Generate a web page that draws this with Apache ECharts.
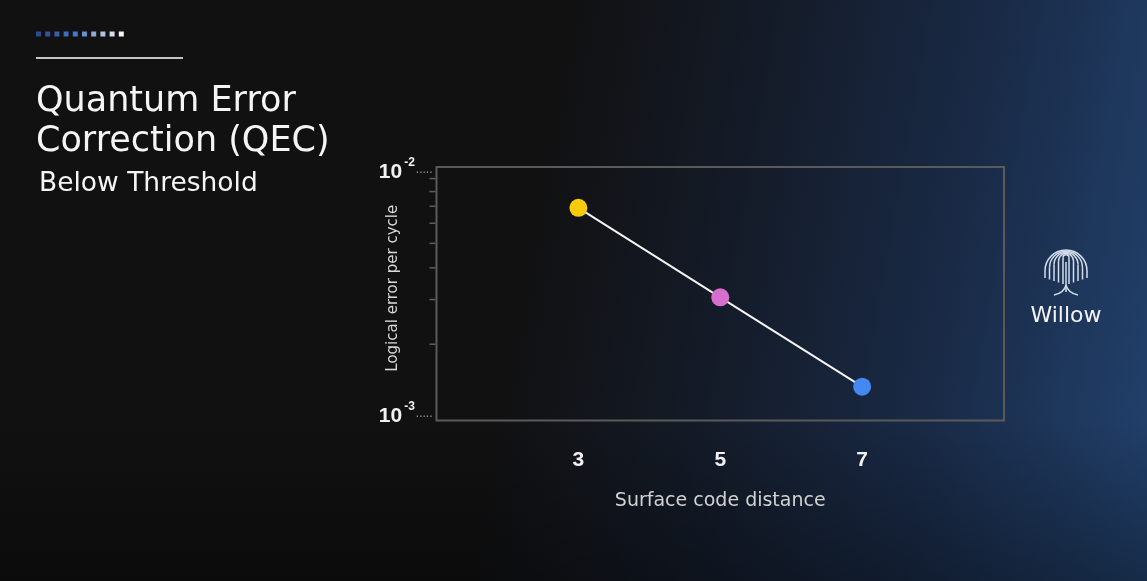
<!DOCTYPE html>
<html><head><meta charset="utf-8">
<script src="https://cdn.jsdelivr.net/npm/echarts@6/dist/echarts.min.js"></script>
<style>
html,body{margin:0;padding:0;width:1147px;height:581px;overflow:hidden;}
body{background:
 linear-gradient(180deg, rgba(0,0,0,0) 72%, rgba(0,0,0,0.35) 100%),
 linear-gradient(100deg, #111112 0%, #111112 46%, #141b28 62%, #192a46 80%, #22426e 100%);}
#c{width:1147px;height:581px;}
</style></head><body><div id="c"></div>
<script>
// ---- data ----
const distances = [3, 5, 7];
const logicalError = [0.0069, 0.00306, 0.00136];
const markerColors = ['#FACB0C', '#D46FCF', '#4688F1'];
const xTickLabels = [3, 5, 7];
const xMin = 1, xMax = 9;
const yMin = 0.001, yMax = 0.01;
const yMinorTickValues = [0.002, 0.003, 0.004, 0.005, 0.006, 0.007, 0.008, 0.009];
const xAxisTitle = 'Surface code distance';
const yAxisTitle = 'Logical error per cycle';
const titleLines = ['Quantum Error', 'Correction (QEC)'];
const subtitle = 'Below Threshold';
const badgeText = 'Willow';
const decoColors = ['#2b4c8e','#30559c','#3660ab','#3d6cbd','#4678c9','#6a8fd0','#8ea9d8','#b3c4e2','#d6deed','#f5f5f5'];

// ---- decorations ----
const graphics = [];
decoColors.forEach((c, i) => {
  graphics.push({type:'rect', shape:{x:36 + i*9.2, y:31.5, width:5, height:5}, style:{fill:c}, silent:true});
});
graphics.push({type:'rect', shape:{x:36, y:57, width:147, height:2}, style:{fill:'#c4c4c4'}, silent:true});
graphics.push({type:'text', x:36, y:102, style:{text:titleLines[0], fill:'#f5f5f5', font:'35px "DejaVu Sans"', verticalAlign:'middle'}, silent:true});
graphics.push({type:'text', x:36, y:142, style:{text:titleLines[1], fill:'#f5f5f5', font:'35px "DejaVu Sans"', verticalAlign:'middle'}, silent:true});
graphics.push({type:'text', x:39, y:184, style:{text:subtitle, fill:'#f5f5f5', font:'26.5px "DejaVu Sans"', verticalAlign:'middle'}, silent:true});
graphics.push({type:'text', x:1066, y:316, style:{text:badgeText, fill:'#f2f4f8', font:'500 22px "DejaVu Sans"', align:'center', verticalAlign:'middle'}, silent:true});
// willow logo
const lcx = 1066, logoStroke = '#d4dcea';
[21, 16.5, 12, 7.5, 3].forEach((w, i) => {
  const yt = 250 + i*1.2;
  const yb = 278 + i*1.5;
  graphics.push({type:'arc', shape:{cx:lcx, cy:yt + w, r:w, startAngle:Math.PI, endAngle:2*Math.PI}, style:{stroke:logoStroke, fill:null, lineWidth:1.5}, silent:true});
  graphics.push({type:'line', shape:{x1:lcx-w, y1:yt+w, x2:lcx-w, y2:Math.max(yb, yt+w)}, style:{stroke:logoStroke, lineWidth:1.5}, silent:true});
  graphics.push({type:'line', shape:{x1:lcx+w, y1:yt+w, x2:lcx+w, y2:Math.max(yb, yt+w)}, style:{stroke:logoStroke, lineWidth:1.5}, silent:true});
});
graphics.push({type:'line', shape:{x1:lcx, y1:262, x2:lcx, y2:292}, style:{stroke:logoStroke, lineWidth:1.5}, silent:true});
graphics.push({type:'bezierCurve', shape:{x1:lcx, y1:285, cpx1:lcx-2, cpy1:293, x2:lcx-12, y2:295}, style:{stroke:logoStroke, fill:null, lineWidth:1.4}, silent:true});
graphics.push({type:'bezierCurve', shape:{x1:lcx, y1:285, cpx1:lcx+2, cpy1:293, x2:lcx+12, y2:295}, style:{stroke:logoStroke, fill:null, lineWidth:1.4}, silent:true});

const yMaxExp = Math.round(Math.log10(yMax));
const chart = echarts.init(document.getElementById('c'), null, {renderer:'canvas'});
chart.setOption({
  backgroundColor:'transparent',
  animation:false,
  graphic: graphics,
  grid:{left:436.5, top:167, right:143, bottom:160.5, show:true, borderColor:'#5a5a5a', borderWidth:2, backgroundColor:'transparent', outerBoundsMode:'none'},
  xAxis:{
    type:'value', min:xMin, max:xMax, interval:1,
    axisLine:{show:false}, axisTick:{show:false}, splitLine:{show:false},
    axisLabel:{margin:29, color:'#f2f2f2', fontFamily:'Liberation Sans', fontWeight:'bold', fontSize:21, lineHeight:22,
      formatter: v => xTickLabels.includes(Math.round(v)) && Math.abs(v - Math.round(v)) < 1e-9 ? String(Math.round(v)) : ''},
    name:xAxisTitle, nameLocation:'middle', nameGap:71, nameMoveOverlap:false,
    nameTextStyle:{color:'#d2d2d2', fontSize:19, fontFamily:'DejaVu Sans'}
  },
  yAxis:{
    type:'log', logBase:10, min:yMin, max:yMax,
    axisLine:{show:false}, axisTick:{show:false}, splitLine:{show:false}, minorTick:{show:false},
    axisLabel:{margin:4,
      formatter: v => {
        const e = Math.round(Math.log10(v));
        const main = '{b|10}{s|' + e + '}{d|.....}';
        return e === yMaxExp ? '{sp6| }\n' + main : main + '\n{sp14| }';
      },
      rich:{
        b:{fontFamily:'Liberation Sans', fontWeight:'bold', fontSize:21, color:'#f2f2f2', verticalAlign:'bottom', lineHeight:26},
        s:{fontFamily:'Liberation Sans', fontWeight:'bold', fontSize:12, color:'#f2f2f2', verticalAlign:'top', lineHeight:26, padding:[0,0,0,2]},
        d:{fontFamily:'Liberation Sans', fontSize:12, color:'#9a9a9a', verticalAlign:'middle', lineHeight:26, padding:[0,0,0,1]},
        sp6:{fontSize:1, lineHeight:6},
        sp14:{fontSize:1, lineHeight:14}
      }
    },
    name:yAxisTitle, nameLocation:'middle', nameGap:36, nameRotate:90, nameMoveOverlap:false,
    nameTextStyle:{color:'#d8d8d8', fontSize:15, fontFamily:'DejaVu Sans', padding:[0,0,0,11]}
  },
  series:[
    {
      type:'custom', silent:true, clip:false, z:1,
      data: yMinorTickValues.map(v => [xMin, v]),
      renderItem:(params, api) => {
        const p = api.coord([api.value(0), api.value(1)]);
        return {type:'line', shape:{x1:p[0]-7, y1:p[1], x2:p[0]-1, y2:p[1]}, style:{stroke:'#5e5e5e', lineWidth:1.5}};
      }
    },
    {
      type:'line', z:3, symbol:'circle', symbolSize:18,
      data: distances.map((d, i) => ({value:[d, logicalError[i]], itemStyle:{color:markerColors[i], borderWidth:0}})),
      lineStyle:{color:'#f4f4f4', width:2},
      emphasis:{disabled:true}
    }
  ]
});
</script></body></html>
